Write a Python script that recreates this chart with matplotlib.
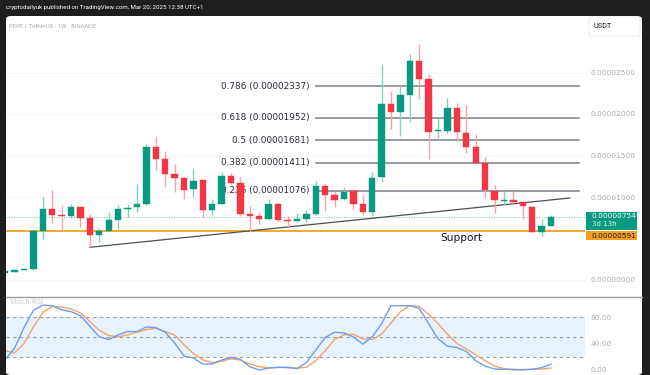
import matplotlib
matplotlib.use("Agg")
import matplotlib.pyplot as plt
from matplotlib.patches import Rectangle, FancyBboxPatch
from matplotlib.lines import Line2D
import matplotlib.transforms as mtrans
import numpy as np

# ---------------- data (prices in units of 1e-6 USDT) ----------------
SCALE = 1e-6
opens = [0.90, 1.02, 1.20, 1.29, 5.90, 8.55, 7.85, 7.77, 8.76, 7.43,
         5.42, 5.94, 7.20, 8.55, 8.80, 9.15, 16.06, 14.60, 12.73, 12.33,
         10.92, 12.00, 8.43, 9.20, 12.50, 11.72, 8.00, 7.71, 7.31, 9.12,
         7.20, 7.15, 7.35, 8.00, 11.33, 10.24, 9.72, 10.68, 9.16, 8.19,
         12.37, 21.20, 20.28, 22.29, 26.42, 24.18, 17.90, 17.95, 20.68, 17.75,
         16.06, 14.06, 10.76, 9.56, 9.68, 9.36, 8.84, 5.82, 6.54]
highs = [0.98, 1.20, 1.40, 5.95, 9.94, 10.84, 9.00, 9.19, 8.80, 8.00,
         6.22, 8.20, 9.04, 9.20, 11.60, 16.35, 17.30, 15.54, 13.94, 12.40,
         13.50, 12.10, 9.76, 13.05, 12.90, 12.45, 8.95, 8.15, 9.80, 9.24,
         7.71, 8.03, 8.40, 11.96, 11.53, 10.76, 11.24, 10.92, 10.20, 12.97,
         26.00, 22.80, 23.37, 27.20, 28.40, 24.78, 19.48, 21.90, 21.36, 21.05,
         17.55, 14.78, 11.45, 10.76, 10.72, 9.40, 8.90, 7.35, 7.87]
lows = [0.88, 1.00, 1.18, 1.25, 4.98, 6.90, 5.90, 7.47, 6.35, 3.94,
        4.60, 5.90, 5.99, 7.63, 8.20, 9.07, 13.20, 11.24, 10.64, 9.72,
        10.04, 7.63, 7.83, 9.10, 11.60, 7.70, 5.95, 6.78, 7.19, 7.03,
        6.40, 7.00, 7.03, 7.87, 8.35, 8.84, 9.64, 8.52, 7.87, 7.75,
        11.84, 18.15, 17.35, 19.00, 21.77, 14.54, 17.07, 17.55, 16.75, 15.34,
        14.06, 10.04, 8.04, 9.00, 9.07, 7.31, 5.75, 5.30, 6.50]
closes = [0.96, 1.17, 1.36, 5.90, 8.52, 7.83, 7.75, 8.76, 7.43, 5.42,
          5.90, 7.19, 8.52, 8.72, 9.15, 16.06, 14.60, 12.73, 12.33, 10.88,
          11.93, 8.40, 9.20, 12.50, 11.72, 7.99, 7.75, 7.31, 9.12, 7.19,
          7.15, 7.35, 8.00, 11.33, 10.20, 9.68, 10.64, 9.16, 8.19, 12.29,
          21.24, 20.28, 22.29, 26.42, 24.22, 17.87, 17.95, 20.76, 17.80, 16.06,
          14.06, 10.84, 9.60, 9.64, 9.36, 8.92, 5.82, 6.51, 7.54]

stoch_k = [16, 33, 64, 90, 98, 97, 91, 88, 82, 66,
           50, 46, 53, 58, 58, 65, 64, 57, 41, 21,
           18, 9, 9, 15, 19, 16, 5, 0, 3, 4,
           4, 2, 11, 30, 49, 57, 56, 50, 39, 50,
           70, 97, 97, 97, 93, 70, 47, 36, 34, 28,
           14, 6, 1.5, 1, 0.5, 0.5, 1, 3.5, 8.6]
stoch_d = [29, 26, 40, 65, 87, 96, 95, 92, 86, 73,
           60, 52, 50, 53, 57, 61, 63, 58, 53, 38,
           25, 15, 11, 13, 17, 15, 9, 5, 3, 4,
           3.5, 3, 4, 14, 29, 46, 53, 54, 47, 46,
           54, 71, 88, 97, 96, 84, 70, 54, 40, 32,
           23, 14, 6, 2, 1, 0.5, 1, 1.5, 3]

fib_levels = [0.236, 0.382, 0.5, 0.618, 0.786]
fib_prices = [10.76, 14.11, 16.81, 19.52, 23.37]
support_price = 5.91
current_price = 7.54
trend_x = [9, 60]
trend_y = [3.94, 9.88]
price_ticks = [0, 10, 15, 20, 25]
stoch_ticks = [0, 40, 80]

# ---------------- style ----------------
GREEN = "#089981"
RED = "#f23645"
GREEN_W = "#86d0c2"
RED_W = "#f7a1aa"
DARK = "#1e1e1e"
GREY_TXT = "#a9acb5"
NARROW = ["Liberation Sans Narrow", "Roboto", "DejaVu Sans"]

W, H = 650, 375
fig = plt.figure(figsize=(6.5, 3.75), dpi=100, facecolor=DARK)

def fx(px):
    return px / W

def fy(py):
    return 1 - py / H

fig.patches.append(FancyBboxPatch((fx(6), 0), fx(636), fy(16),
                                  boxstyle="round,pad=0,rounding_size=0.008",
                                  transform=fig.transFigure, facecolor="white",
                                  edgecolor="none", zorder=-10))

fig.text(fx(6), fy(8), "cryptodailyuk published on TradingView.com, Mar 20, 2025 12:38 UTC+1",
         color="white", fontsize=4.45, va="center", ha="left", family=NARROW)
fig.text(fx(9), fy(26), "PEPE / TetherUS · 1W · BINANCE", color=GREY_TXT,
         fontsize=4.35, va="center", ha="left", family=NARROW)
fig.patches.append(FancyBboxPatch((fx(589), fy(36)), fx(51), fy(17) - fy(36),
                                  boxstyle="round,pad=0,rounding_size=0.004",
                                  transform=fig.transFigure, facecolor="white",
                                  edgecolor="#e6e8ee", lw=0.6, zorder=-5))
fig.text(fx(594), fy(26.5), "USDT", color="#131722", fontsize=5.2, va="center", ha="left",
         family=NARROW)

# ---------------- main price axes ----------------
ax_l, ax_r = 6, 585
ax = fig.add_axes([fx(ax_l), fy(296), fx(ax_r - ax_l), fy(16) - fy(296)])
ax.set_facecolor("none")
px_per_unit = 8.3
ax.set_ylim((280 - 296) / px_per_unit, (280 - 16) / px_per_unit)
x0, dx = 5.2, 9.41
ax.set_xlim((ax_l - x0) / dx, (ax_r - x0) / dx)
for s in ax.spines.values():
    s.set_visible(False)
ax.set_xticks([])

idx = np.arange(len(opens))
o = np.array(opens); c = np.array(closes); hi = np.array(highs); lo = np.array(lows)
up = c >= o
body_col = np.where(up, GREEN, RED)
wick_col = np.where(up, GREEN_W, RED_W)

for t in price_ticks:
    ax.axhline(t, color="#f4f5f8", lw=0.6, zorder=0)

ax.vlines(idx, lo, hi, colors=wick_col, lw=1.0, zorder=3)
heights = np.maximum(np.abs(c - o), 0.13)
ax.bar(idx, heights, bottom=np.minimum(o, c), width=0.68, color=body_col,
       edgecolor=body_col, lw=0.3, zorder=4)

for lvl, p in zip(fib_levels, fib_prices):
    ax.plot([33.0, 61.0], [p, p], color="#7b7e87", lw=1.1, zorder=2)
    ax.text(32.3, p, f"{lvl:g} ({p * SCALE:.8f})", ha="right", va="center",
            fontsize=6.4, color="#2a2e39", zorder=1)

ax.axhline(support_price, color="#f7a11a", lw=1.3, zorder=2)
ax.plot(trend_x, trend_y, color="#4d4f55", lw=0.9, zorder=2)
ax.axhline(current_price, color=GREEN, lw=0.6, ls=(0, (1, 2)), alpha=0.7, zorder=1)
ax.text(48.5, 5.05, "Support", ha="center", va="center", fontsize=7.6, color="#131722", zorder=5)

ax.yaxis.tick_right()
ax.set_yticks(price_ticks)
ax.set_yticklabels([f"{t * SCALE:.8f}" for t in price_ticks])
ax.tick_params(axis="y", length=0, pad=4.3, labelsize=5.3, labelcolor=GREY_TXT)

tr = mtrans.blended_transform_factory(ax.transAxes, ax.transData)
bw = (636.7 - 585.7) / (ax_r - ax_l)
ax.add_patch(Rectangle((1.0013, (280 - 230) / px_per_unit), bw, 17.7 / px_per_unit,
                       transform=tr, facecolor=GREEN, edgecolor="none", clip_on=False, zorder=6))
ax.text(1.012, (280 - 216.5) / px_per_unit, f"{current_price * SCALE:.8f}", transform=tr,
        color="white", fontsize=5.3, va="center", ha="left", clip_on=False, zorder=7)
ax.text(1.012, (280 - 224.5) / px_per_unit, "3d 13h", transform=tr,
        color="#dff2ee", fontsize=5.0, va="center", ha="left", clip_on=False, zorder=7)
ax.add_patch(Rectangle((1.0013, (280 - 240.3) / px_per_unit), bw, 9.6 / px_per_unit,
                       transform=tr, facecolor="#f7a11a", edgecolor="none", clip_on=False, zorder=6))
ax.text(1.012, (280 - 235.5) / px_per_unit, f"{support_price * SCALE:.8f}", transform=tr,
        color="#131722", fontsize=5.3, va="center", ha="left", clip_on=False, zorder=7)

fig.add_artist(Line2D([fx(6), fx(642)], [fy(296.5), fy(296.5)], color="#9a9ca3", lw=1.0))

# ---------------- stoch RSI axes ----------------
ax2 = fig.add_axes([fx(ax_l), 0, fx(ax_r - ax_l), fy(297)])
ax2.set_facecolor("none")
s_px = 0.6625
ax2.set_ylim((370 - 375) / s_px, (370 - 297) / s_px)
ax2.set_xlim(ax.get_xlim())
for s in ax2.spines.values():
    s.set_visible(False)
ax2.set_xticks([])
ax2.axhspan(20, 80, color="#e7f2fd", lw=0, zorder=0)
for lv in (80, 50, 20):
    ax2.axhline(lv, color="#9a9ca3", lw=0.8, ls=(0, (3, 3)), zorder=1)
ax2.plot(idx, stoch_k, color="#6c9cf5", lw=1.0, zorder=3)
ax2.plot(idx, stoch_d, color="#f5a36a", lw=1.0, zorder=2)
ax2.text(0.5, 102, "Stoch RSI", fontsize=5.0, color="#c3c6cd", ha="left", va="center")
ax2.yaxis.tick_right()
ax2.set_yticks(stoch_ticks)
ax2.set_yticklabels([f"{t:.2f}" for t in stoch_ticks])
ax2.tick_params(axis="y", length=0, pad=4.3, labelsize=5.3, labelcolor=GREY_TXT)

fig.savefig("out.png", dpi=100, facecolor=DARK)
